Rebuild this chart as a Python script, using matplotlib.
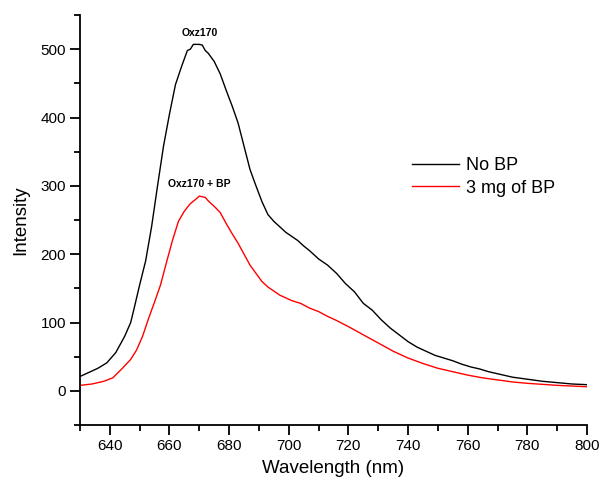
import matplotlib
matplotlib.use("Agg")
import matplotlib.pyplot as plt
from matplotlib.ticker import MultipleLocator

plt.rcParams['font.family'] = ['Liberation Sans', 'DejaVu Sans']

wl_nobp = [630, 633, 636, 639, 642, 645, 647, 648, 650, 652, 654, 656, 658, 660, 662, 664, 666, 667, 668, 670, 671,
           672, 673, 675, 677, 679, 681, 683, 685, 687, 689, 691, 693, 695, 697, 699, 701, 703, 705, 707, 710,
           713, 716, 719, 722, 725, 728, 731, 734, 737, 740, 743, 746, 749, 752, 755, 758, 761, 764, 767, 770,
           775, 780, 785, 790, 795, 800]
int_nobp = [21, 27, 33, 41, 56, 80, 100, 118, 155, 190, 240, 300, 358, 405, 448, 474, 498, 500, 507, 507, 506,
            498, 494, 482, 464, 440, 417, 392, 358, 324, 300, 277, 258, 248, 240, 232, 226, 220, 212, 205, 193,
            184, 172, 157, 145, 128, 118, 104, 92, 82, 72, 64, 58, 52, 48, 44, 39, 35, 32, 28, 25,
            20, 17, 14, 12, 10, 9]

wl_bp = [630, 634, 638, 641, 644, 647, 649, 651, 653, 655, 657, 659, 661, 663, 665, 667, 669, 670, 671, 672,
         673, 675, 677, 679, 681, 683, 685, 687, 689, 691, 693, 695, 697, 699, 701, 704, 707, 710, 713, 716,
         720, 725, 730, 735, 740, 745, 750, 755, 760, 765, 770, 775, 780, 790, 800]
int_bp = [8, 10, 14, 19, 32, 46, 60, 80, 106, 130, 155, 188, 220, 248, 263, 274, 281, 285, 284, 283,
          278, 270, 261, 245, 230, 216, 200, 184, 172, 160, 152, 146, 140, 136, 132, 128, 121, 116, 109, 103,
          94, 82, 70, 58, 48, 40, 33, 28, 23, 19, 16, 13, 11, 8, 6]

series_labels = ["No BP", "3 mg of BP"]
annot_texts = ["Oxz170", "Oxz170 + BP"]

fig = plt.figure(figsize=(6.0, 4.87), dpi=100)
ax = fig.add_axes([80/600, 62/487, 507/600, 410/487])

ax.plot(wl_nobp, int_nobp, color='black', lw=1.0, label=series_labels[0])
ax.plot(wl_bp, int_bp, color='red', lw=1.0, label=series_labels[1])

ax.set_xlim(630, 800)
ax.set_ylim(-50, 550)
ax.xaxis.set_major_locator(MultipleLocator(20))
ax.xaxis.set_minor_locator(MultipleLocator(10))
ax.set_yticks([0, 100, 200, 300, 400, 500])
ax.yaxis.set_minor_locator(MultipleLocator(50))

for s in ['top', 'right']:
    ax.spines[s].set_visible(False)
for s in ['left', 'bottom']:
    ax.spines[s].set_linewidth(1.3)
ax.tick_params(which='major', direction='out', length=7, width=1.3, labelsize=11, pad=3)
ax.tick_params(which='minor', direction='out', length=4, width=1.3)

ax.set_xlabel("Wavelength (nm)", fontsize=13.5, labelpad=5)
ax.set_ylabel("Intensity", fontsize=13.5, labelpad=8)

ax.text(670, 516, annot_texts[0], fontsize=7.5, fontweight='bold', ha='center', va='bottom')
ax.text(670, 295, annot_texts[1], fontsize=7.5, fontweight='bold', ha='center', va='bottom')

leg = ax.legend(loc='upper left', bbox_to_anchor=(325/507, (425-150)/410), frameon=False,
                fontsize=13, handlelength=2.6, handletextpad=0.4, labelspacing=0.3, borderaxespad=0)

fig.savefig("out.png", dpi=100)
